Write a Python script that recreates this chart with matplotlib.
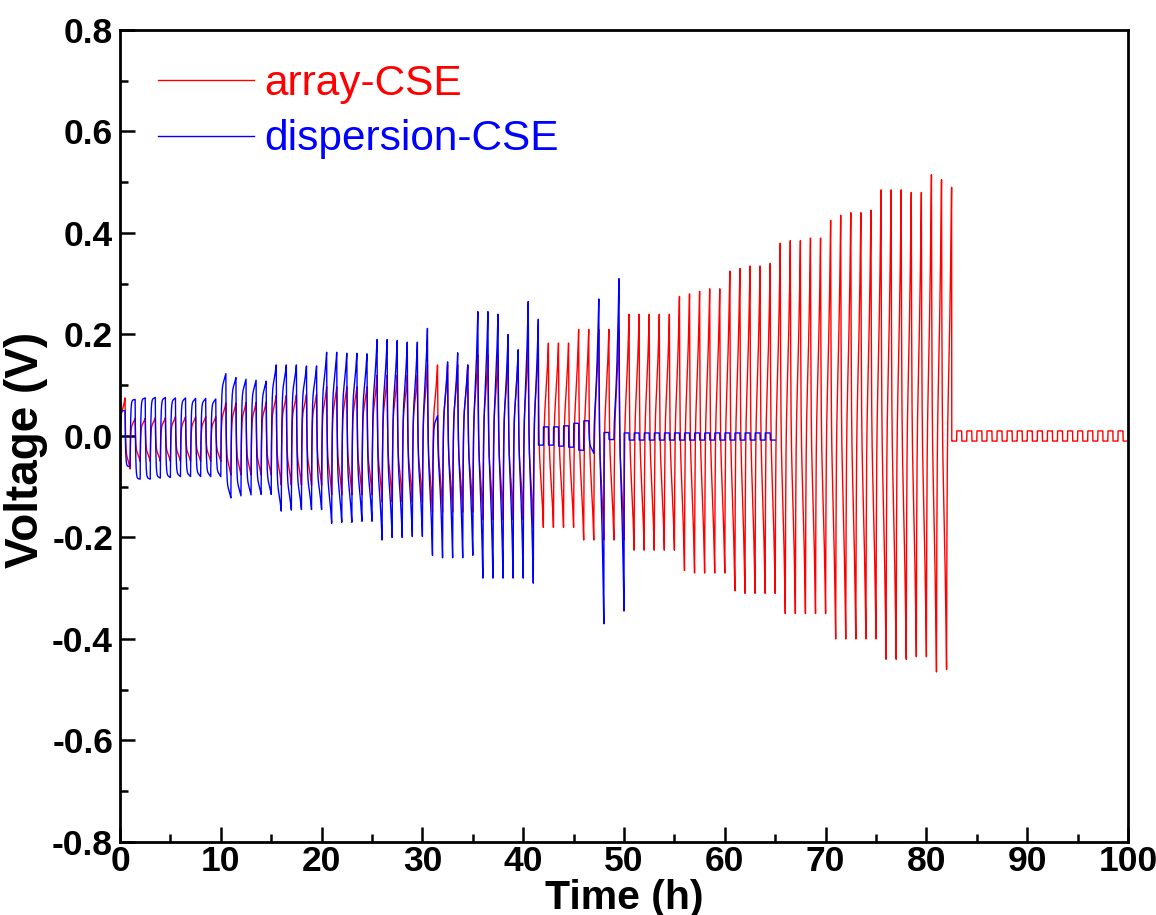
import numpy as np
import matplotlib
matplotlib.use("Agg")
import matplotlib.pyplot as plt
from matplotlib.ticker import MultipleLocator

# ---------------- data (per-cycle peak voltages, V; cycle k spans k..k+1 h) -------------
red_label = "array-CSE"
blue_label = "dispersion-CSE"

red_pos = [0.075, 0.035, 0.035, 0.036, 0.036,
           0.038, 0.038, 0.038, 0.038, 0.038,
           0.065, 0.065, 0.066, 0.066, 0.067,
           0.080, 0.080, 0.081, 0.082, 0.082,
           0.097, 0.097, 0.097, 0.097, 0.097,
           0.120, 0.120, 0.120, 0.120, 0.120,
           0.140, 0.140, 0.140, 0.140, 0.140,
           0.160, 0.160, 0.160, 0.160, 0.160,
           0.183, 0.183, 0.183, 0.183, 0.183,
           0.210, 0.210, 0.210, 0.210, 0.210,
           0.240, 0.240, 0.240, 0.240, 0.240,
           0.275, 0.280, 0.285, 0.290, 0.290,
           0.325, 0.330, 0.335, 0.335, 0.340,
           0.380, 0.385, 0.385, 0.390, 0.390,
           0.425, 0.435, 0.440, 0.440, 0.445,
           0.485, 0.485, 0.485, 0.480, 0.480,
           0.515, 0.505, 0.490, 0.010, 0.010,
           0.010, 0.010, 0.010, 0.010, 0.010,
           0.010, 0.010, 0.010, 0.010, 0.010,
           0.010, 0.010, 0.010, 0.010, 0.010]
red_neg = [-0.065, -0.050, -0.050, -0.050, -0.050,
           -0.050, -0.050, -0.050, -0.050, -0.050,
           -0.077, -0.077, -0.077, -0.077, -0.077,
           -0.097, -0.097, -0.097, -0.097, -0.097,
           -0.116, -0.116, -0.116, -0.116, -0.116,
           -0.130, -0.130, -0.130, -0.130, -0.130,
           -0.150, -0.150, -0.150, -0.150, -0.150,
           -0.165, -0.165, -0.165, -0.165, -0.165,
           -0.180, -0.180, -0.180, -0.180, -0.180,
           -0.205, -0.205, -0.205, -0.205, -0.205,
           -0.225, -0.225, -0.225, -0.225, -0.225,
           -0.265, -0.270, -0.270, -0.270, -0.270,
           -0.305, -0.310, -0.310, -0.310, -0.310,
           -0.350, -0.350, -0.350, -0.350, -0.350,
           -0.400, -0.400, -0.400, -0.400, -0.400,
           -0.440, -0.440, -0.440, -0.435, -0.435,
           -0.465, -0.460, -0.010, -0.010, -0.010,
           -0.010, -0.010, -0.010, -0.010, -0.010,
           -0.010, -0.010, -0.010, -0.010, -0.010,
           -0.010, -0.010, -0.010, -0.010, -0.010]

blue_pos = [0.050, 0.072, 0.075, 0.076, 0.076,
            0.075, 0.075, 0.074, 0.074, 0.073,
            0.123, 0.115, 0.112, 0.110, 0.108,
            0.140, 0.140, 0.140, 0.138, 0.138,
            0.165, 0.165, 0.163, 0.163, 0.162,
            0.190, 0.190, 0.188, 0.185, 0.185,
            0.212, 0.040, 0.146, 0.164, 0.140,
            0.245, 0.245, 0.240, 0.200, 0.170,
            0.265, 0.230, 0.018, 0.018, 0.020,
            0.025, 0.030, 0.270, 0.007, 0.310,
            0.006, 0.006, 0.006, 0.006, 0.006,
            0.006, 0.006, 0.006, 0.006, 0.006,
            0.006, 0.006, 0.006, 0.006, 0.006]
blue_neg = [-0.060, -0.085, -0.085, -0.083, -0.082,
            -0.080, -0.080, -0.080, -0.080, -0.080,
            -0.122, -0.118, -0.116, -0.115, -0.115,
            -0.148, -0.146, -0.145, -0.145, -0.145,
            -0.172, -0.170, -0.170, -0.168, -0.168,
            -0.205, -0.200, -0.200, -0.198, -0.198,
            -0.235, -0.240, -0.240, -0.240, -0.235,
            -0.280, -0.280, -0.280, -0.280, -0.280,
            -0.290, -0.018, -0.018, -0.020, -0.022,
            -0.028, -0.034, -0.370, -0.007, -0.345,
            -0.008, -0.008, -0.008, -0.008, -0.008,
            -0.008, -0.008, -0.008, -0.008, -0.008,
            -0.008, -0.008, -0.008, -0.008, -0.008]

x_ticks = [0, 10, 20, 30, 40, 50, 60, 70, 80, 90, 100]
y_ticks = [-0.8, -0.6, -0.4, -0.2, 0.0, 0.2, 0.4, 0.6, 0.8]

# ---------------- waveform shapes (styling of each half cycle) ----------------
NPTS = 60
SQUARE = 0.032


def half_wave(prev, A, flat, u, tau=0.1, p=2.0):
    """Relax from the previous end value, then polarise towards peak A."""
    if abs(A) < SQUARE:
        e = np.exp(-u / 0.004)
        return prev * e + (1 - e) * A
    v0 = np.sign(A) * min(0.05, 0.6 * abs(A))
    v0 = flat * A + (1 - flat) * v0
    e = np.exp(-u / tau)
    return prev * e + (1 - e) * (v0 + (A - v0) * u ** p)


def build(pos, neg, flat_of_cycle):
    ts, vs = [], []
    u = np.linspace(0, 1, NPTS)
    prev = 0.0
    for k in range(len(pos)):
        for half, A in ((0, pos[k]), (1, neg[k])):
            v = half_wave(prev, A, flat_of_cycle(k), u)
            ts.append(k + 0.5 * half + 0.5 * u)
            vs.append(v)
            prev = v[-1]
    return np.concatenate(ts), np.concatenate(vs)


t_red, v_red = build(red_pos, red_neg, lambda k: 0.0)
t_blue, v_blue = build(blue_pos, blue_neg,
                       lambda k: float(np.clip(1 - k / 32.0, 0.0, 1.0)))

# ---------------- figure ----------------
plt.rcParams['font.family'] = ['Liberation Sans', 'DejaVu Sans']

fig = plt.figure(figsize=(11.56, 9.15), dpi=100)
ax = fig.add_axes([120 / 1156, 1 - 842 / 915, 1008 / 1156, 812 / 915])

ax.plot(t_red, v_red, color='#ff0000', lw=1.0, label=red_label)
ax.plot(t_blue, v_blue, color='#0000ff', lw=1.0, label=blue_label)

ax.set_xlim(0, 100)
ax.set_ylim(-0.8, 0.8)
ax.set_xticks(x_ticks)
ax.set_yticks(y_ticks)
ax.set_xticklabels([str(v) for v in x_ticks])
ax.set_yticklabels([f"{v:.1f}" for v in y_ticks])
ax.xaxis.set_minor_locator(MultipleLocator(5))
ax.yaxis.set_minor_locator(MultipleLocator(0.1))
ax.tick_params(which='both', direction='in', top=False, right=False, width=1.8)
ax.tick_params(which='major', length=11)
ax.tick_params(which='minor', length=6)
ax.tick_params(axis='x', which='major', pad=2)
ax.tick_params(axis='y', which='major', pad=5)
for lab in ax.get_xticklabels() + ax.get_yticklabels():
    lab.set_fontsize(25.5)
    lab.set_fontweight('bold')
for sp in ax.spines.values():
    sp.set_linewidth(2.0)

ax.set_xlabel("Time (h)", fontsize=29.5, fontweight='bold', labelpad=1)
ax.set_ylabel("Voltage (V)", fontsize=33, fontweight='bold')
ax.yaxis.set_label_coords(-0.071, 0.483)

leg = ax.legend(loc='upper left', bbox_to_anchor=(0.038, 0.958), frameon=False,
                fontsize=30.5, handlelength=2.25, handletextpad=0.25,
                labelspacing=0.36, borderpad=0, borderaxespad=0)
for txt, col in zip(leg.get_texts(), ['#ff0000', '#0000ff']):
    txt.set_color(col)

fig.savefig("out.png", dpi=100)
